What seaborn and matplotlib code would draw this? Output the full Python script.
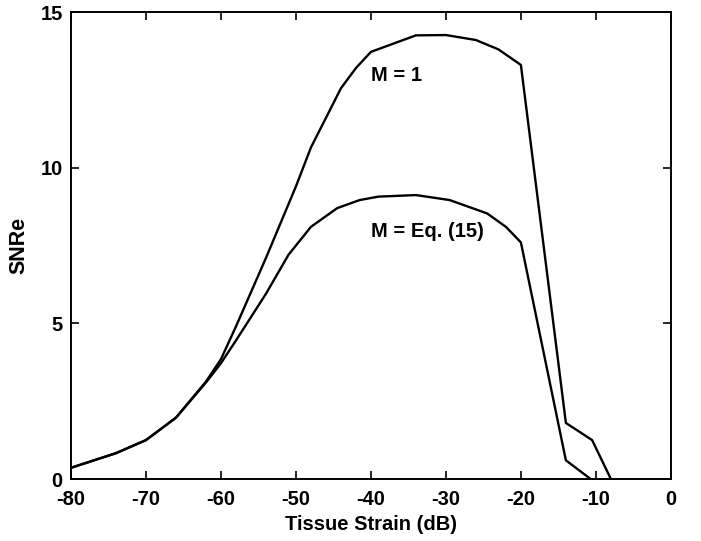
import numpy as np
import pandas as pd
import matplotlib
matplotlib.use("Agg")
import matplotlib.pyplot as plt
import seaborn as sns

# Tissue strain (dB) and SNRe for the two window settings
strain_m1 = [-80, -74, -70, -66, -62, -60, -58, -54, -50, -48, -44, -42, -40,
             -34, -30, -26, -23, -20, -14, -10.5, -8]
snre_m1 = [0.36, 0.83, 1.25, 1.97, 3.13, 3.85, 4.9, 7.1, 9.4, 10.65, 12.55, 13.2, 13.72,
           14.25, 14.26, 14.1, 13.8, 13.3, 1.8, 1.25, 0.0]

strain_eq = [-80, -74, -70, -66, -62, -60, -58, -54, -51, -48, -44.5, -41.5, -39,
             -34, -29.5, -24.5, -22, -20, -14, -10.7]
snre_eq = [0.36, 0.83, 1.25, 1.97, 3.1, 3.72, 4.45, 5.95, 7.2, 8.1, 8.7, 8.96, 9.07,
           9.12, 8.96, 8.53, 8.1, 7.6, 0.6, 0.0]

series_labels = ["M = 1", "M = Eq. (15)"]

df = pd.concat([
    pd.DataFrame({"strain": strain_m1, "snre": snre_m1, "series": series_labels[0]}),
    pd.DataFrame({"strain": strain_eq, "snre": snre_eq, "series": series_labels[1]}),
], ignore_index=True)

sns.set_style("ticks")
plt.rcParams["font.family"] = ["Liberation Sans", "DejaVu Sans"]
plt.rcParams["font.weight"] = "bold"
plt.rcParams["axes.unicode_minus"] = False
plt.rcParams["text.color"] = "black"
plt.rcParams["axes.labelcolor"] = "black"
plt.rcParams["xtick.color"] = "black"
plt.rcParams["ytick.color"] = "black"

FS = 14.5

fig = plt.figure(figsize=(7.01, 5.41), dpi=100)
ax = fig.add_axes([0.1013, 0.1146, 0.8557, 0.8632])

sns.lineplot(data=df, x="strain", y="snre", units="series", estimator=None,
             sort=False, color="black", linewidth=1.7, ax=ax, legend=False)

ax.set_xlim(-80, 0)
ax.set_ylim(0, 15)
ax.set_xticks(np.arange(-80, 1, 10))
ax.set_yticks([0, 5, 10, 15])
ax.tick_params(direction="in", length=6, width=1.2, top=True, right=True,
               labelsize=FS, colors="black", labelcolor="black")
ax.tick_params(axis="x", pad=8)
ax.tick_params(axis="y", pad=6)
for lab in ax.get_xticklabels() + ax.get_yticklabels():
    lab.set_fontweight("bold")
    lab.set_color("black")
for sp in ax.spines.values():
    sp.set_visible(True)
    sp.set_linewidth(1.4)
    sp.set_color("black")

ax.set_xlabel("Tissue Strain (dB)", fontsize=FS, fontweight="bold", labelpad=4,
              color="black")
ax.set_ylabel("SNRe", fontsize=FS + 1, fontweight="bold", labelpad=8, color="black")

ax.text(-40.0, 12.95, series_labels[0], fontsize=FS, fontweight="bold",
        ha="left", va="center", color="black")
ax.text(-40.0, 7.94, series_labels[1], fontsize=FS, fontweight="bold",
        ha="left", va="center", color="black")

fig.savefig("out.png", dpi=100)
